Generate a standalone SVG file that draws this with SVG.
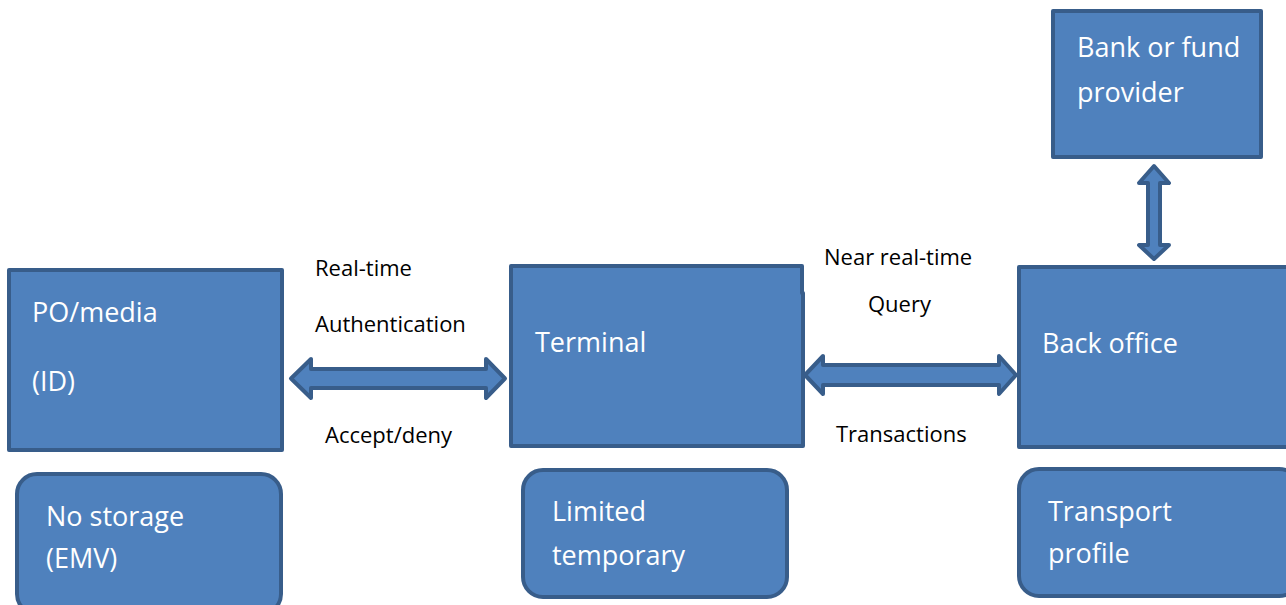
<svg xmlns="http://www.w3.org/2000/svg" width="1286" height="605" viewBox="0 0 1286 605">
<style>
.box{fill:#4F81BD;stroke:#385D8A;stroke-width:4;stroke-linejoin:round}
.arr{fill:#4F81BD;stroke:#385D8A;stroke-width:4;stroke-linejoin:round}
.t{font-family:"Open Sans","Noto Sans",sans-serif;font-size:27px;fill:#FFFFFF}
.l{font-family:"Open Sans","Noto Sans",sans-serif;font-size:22px;fill:#000000}
</style>
<rect width="1286" height="605" fill="#FFFFFF"/>
<g id="connectors">
<path class="arr" d="M291,378.5 L311,359 V369 H486 V359 L505,378.5 L486,398 V388 H311 V398 Z"/>
<path class="arr" d="M805,375 L823,356 V365 H999 V356 L1016,375 L999,394 V385 H823 V394 Z"/>
<path class="arr" d="M1154,166 L1169,183 H1160 V245 H1169 L1154,259 L1139,245 H1148 V183 H1139 Z"/>
<text class="l" x="315" y="276">Real-time</text>
<text class="l" x="315" y="332">Authentication</text>
<text class="l" x="325" y="443">Accept/deny</text>
<text class="l" x="824" y="265">Near real-time</text>
<text class="l" x="868" y="312">Query</text>
<text class="l" x="836" y="442">Transactions</text>
</g>
<g id="po-media">
<rect class="box" x="9" y="270" width="273" height="180"/>
<text class="t" x="32" y="322">PO/media</text>
<text class="t" x="32" y="391">(ID)</text>
</g>
<g id="no-storage">
<rect class="box" x="17" y="474" width="264" height="140" rx="20"/>
<text class="t" x="46" y="526">No storage</text>
<text class="t" x="46" y="568">(EMV)</text>
</g>
<g id="terminal">
<path class="box" d="M511,266 H802 V293 H803 V446 H511 Z"/>
<text class="t" x="535" y="352">Terminal</text>
</g>
<g id="limited-temporary">
<rect class="box" x="523" y="470" width="264" height="127" rx="20"/>
<text class="t" x="552" y="521">Limited</text>
<text class="t" x="552" y="565">temporary</text>
</g>
<g id="back-office">
<rect class="box" x="1019" y="267" width="280" height="180"/>
<text class="t" x="1042" y="353">Back office</text>
</g>
<g id="transport-profile">
<rect class="box" x="1019" y="469" width="280" height="127" rx="20"/>
<text class="t" x="1048" y="521">Transport</text>
<text class="t" x="1048" y="563">profile</text>
</g>
<g id="bank">
<rect class="box" x="1053" y="11" width="208" height="146"/>
<text class="t" x="1077" y="57">Bank or fund</text>
<text class="t" x="1077" y="102">provider</text>
</g>
</svg>
